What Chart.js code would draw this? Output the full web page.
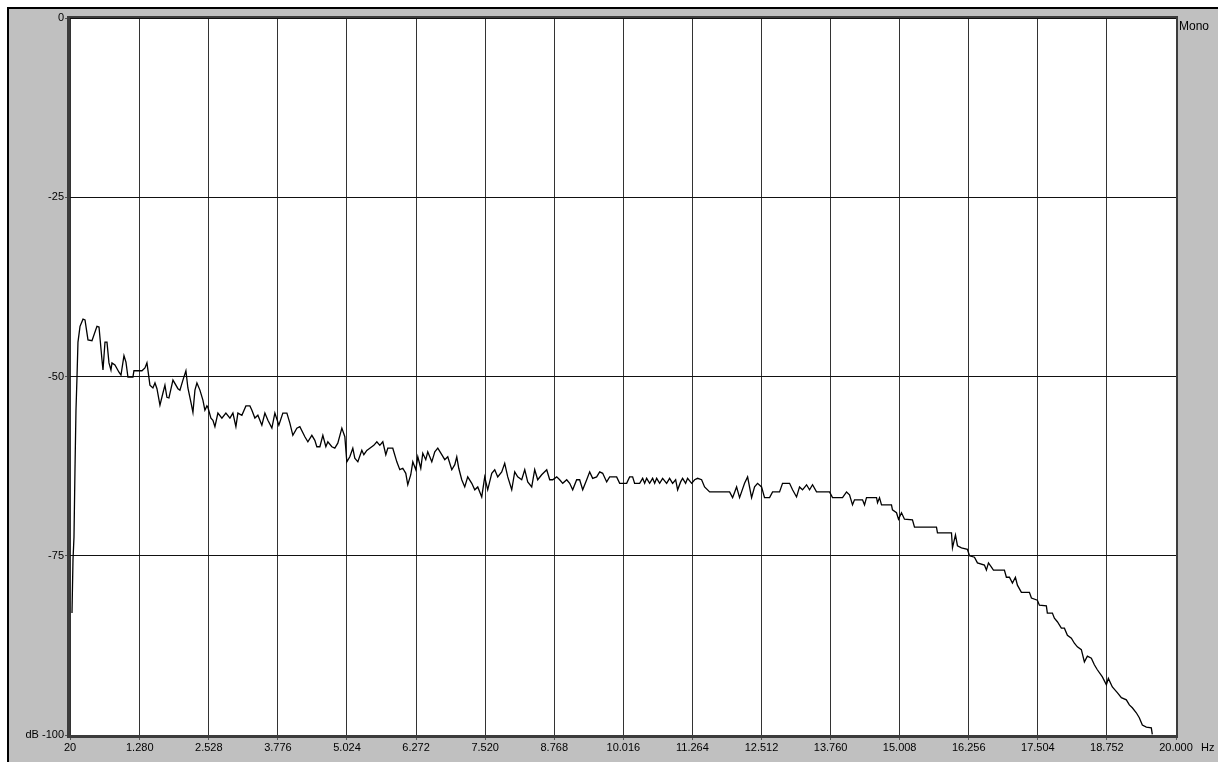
<!DOCTYPE html>
<html>
<head>
<meta charset="utf-8">
<script src="https://cdn.jsdelivr.net/npm/chart.js@4.4.1/dist/chart.umd.min.js"></script>
<style>
  html, body { margin: 0; padding: 0; background: #fff; }
  #wrap { position: relative; width: 1218px; height: 762px; }
</style>
</head>
<body>
<div id="wrap"><canvas id="spectrum" width="1218" height="762"></canvas></div>
<script>
// Frequency axis ticks (Hz) and their printed labels
const xTickValues = [20, 1280, 2528, 3776, 5024, 6272, 7520, 8768, 10016, 11264, 12512, 13760, 15008, 16256, 17504, 18752, 20000];
const xTickLabels = ['20', '1.280', '2.528', '3.776', '5.024', '6.272', '7.520', '8.768', '10.016', '11.264', '12.512', '13.760', '15.008', '16.256', '17.504', '18.752', '20.000'];

// Level axis ticks (dB) and their printed labels
const yTickValues = [0, -25, -50, -75, -100];
const yTickLabels = ['0', '-25', '-50', '-75', 'dB -100'];

// Spectrum trace: frequency (Hz)
const freqHz = [
  56, 74, 92, 110, 128, 146, 164, 201, 255, 291, 345, 417, 507, 544, 598, 616, 652, 688, 724, 760,
  778, 832, 905, 941, 995, 1031, 1067, 1157, 1175, 1320, 1374, 1410, 1428, 1464, 1518, 1555, 1591, 1645, 1699, 1735,
  1771, 1807, 1880, 1970, 2006, 2060, 2114, 2150, 2205, 2241, 2277, 2313, 2367, 2421, 2457, 2493, 2511, 2566, 2602, 2638,
  2692, 2764, 2836, 2909, 2963, 3017, 3053, 3125, 3198, 3270, 3306, 3360, 3414, 3486, 3541, 3595, 3667, 3721, 3793, 3865,
  3938, 3992, 4046, 4118, 4172, 4263, 4317, 4389, 4443, 4479, 4534, 4588, 4642, 4678, 4750, 4804, 4858, 4931, 4985, 5021,
  5075, 5129, 5165, 5220, 5292, 5328, 5382, 5436, 5508, 5563, 5617, 5671, 5725, 5761, 5851, 5924, 5978, 6032, 6086, 6122,
  6176, 6213, 6267, 6303, 6357, 6393, 6447, 6483, 6556, 6610, 6664, 6736, 6790, 6844, 6917, 6971, 7007, 7043, 7097, 7151,
  7205, 7278, 7332, 7386, 7458, 7512, 7566, 7639, 7693, 7747, 7819, 7873, 7928, 8000, 8054, 8108, 8180, 8235, 8289, 8361,
  8415, 8469, 8541, 8632, 8686, 8740, 8812, 8866, 8921, 8993, 9047, 9101, 9173, 9227, 9282, 9354, 9408, 9462, 9534, 9589,
  9643, 9715, 9769, 9895, 9950, 10076, 10130, 10184, 10220, 10311, 10365, 10401, 10437, 10491, 10545, 10582, 10618, 10672, 10726, 10798,
  10852, 10906, 10961, 10997, 11051, 11087, 11141, 11177, 11250, 11304, 11358, 11430, 11484, 11575, 11936, 11990, 12062, 12116, 12206, 12261,
  12333, 12387, 12441, 12513, 12567, 12658, 12712, 12838, 12892, 13019, 13073, 13145, 13199, 13253, 13326, 13380, 13434, 13506, 13741, 13795,
  13976, 14048, 14102, 14156, 14192, 14337, 14373, 14409, 14590, 14608, 14644, 14680, 14860, 14878, 14951, 14987, 15041, 15095, 15239, 15276,
  15673, 15691, 15944, 15962, 16016, 16052, 16124, 16232, 16269, 16359, 16413, 16539, 16575, 16612, 16666, 16702, 16900, 16936, 16991, 17045,
  17099, 17135, 17207, 17352, 17388, 17496, 17532, 17658, 17676, 17767, 17803, 17857, 17929, 17984, 18038, 18110, 18164, 18218, 18290, 18345,
  18399, 18471, 18525, 18579, 18670, 18742, 18778, 18850, 18940, 19013, 19103, 19157, 19211, 19283, 19337, 19392, 19464, 19554, 19572
];

// Spectrum trace: level (dB)
const levelDb = [
  -83.0, -75.6, -72.4, -63.0, -54.7, -50.2, -45.2, -43.0, -42.0, -42.1, -44.9, -45.0, -43.0, -43.1, -47.7, -49.1, -45.2, -45.2, -48.1, -49.1,
  -48.1, -48.4, -49.4, -49.8, -47.1, -48.0, -50.1, -50.1, -49.2, -49.2, -48.8, -48.1, -49.1, -51.2, -51.6, -50.9, -51.7, -54.0, -52.3, -51.2,
  -52.9, -53.0, -50.5, -51.7, -51.9, -50.5, -49.2, -51.6, -53.6, -55.0, -51.9, -50.9, -51.9, -53.3, -54.7, -54.1, -54.3, -55.8, -56.1, -57.0,
  -55.1, -55.8, -55.1, -55.8, -55.1, -57.0, -55.1, -55.4, -54.1, -54.1, -54.7, -55.8, -55.4, -56.8, -55.1, -56.1, -57.2, -55.1, -56.8, -55.1,
  -55.1, -56.5, -58.2, -57.2, -57.0, -58.4, -59.1, -58.2, -58.9, -59.8, -59.8, -58.2, -59.8, -59.1, -59.8, -60.0, -59.3, -57.2, -58.4, -61.9,
  -61.2, -60.0, -61.4, -61.9, -60.3, -60.9, -60.3, -60.0, -59.6, -59.1, -59.6, -59.1, -60.9, -60.0, -60.0, -61.9, -63.0, -62.8, -63.5, -65.1,
  -63.7, -61.9, -63.0, -61.2, -62.8, -60.7, -61.6, -60.5, -61.9, -60.5, -60.0, -60.9, -61.6, -61.2, -63.0, -62.3, -61.2, -62.8, -64.4, -65.4,
  -64.0, -64.9, -65.8, -65.4, -66.8, -64.0, -65.8, -63.5, -63.0, -64.0, -63.3, -62.1, -64.0, -65.8, -63.3, -64.0, -64.4, -63.0, -64.7, -65.4,
  -63.0, -64.4, -63.7, -63.0, -64.4, -64.4, -64.0, -64.4, -64.9, -64.4, -64.9, -65.8, -64.4, -64.4, -65.8, -64.4, -63.3, -64.2, -64.0, -63.3,
  -63.5, -64.7, -64.0, -64.0, -64.9, -64.9, -64.0, -64.0, -64.9, -64.9, -64.2, -64.9, -64.2, -64.9, -64.2, -64.9, -64.2, -64.9, -64.2, -64.9,
  -64.2, -64.9, -64.4, -65.8, -64.7, -64.2, -64.9, -64.2, -64.9, -64.4, -64.2, -64.4, -65.4, -66.1, -66.1, -66.9, -65.4, -66.9, -64.9, -64.0,
  -66.9, -65.4, -64.9, -65.4, -66.9, -66.9, -66.1, -66.1, -64.9, -64.9, -65.8, -66.8, -65.4, -65.8, -65.1, -65.8, -65.1, -66.1, -66.1, -66.9,
  -66.9, -66.1, -66.5, -67.9, -67.2, -67.2, -67.9, -66.9, -66.9, -67.6, -66.9, -67.9, -67.9, -68.6, -69.0, -69.9, -69.0, -69.9, -70.0, -71.0,
  -71.0, -71.8, -71.8, -73.9, -72.1, -73.6, -73.9, -74.1, -75.0, -75.2, -76.0, -76.3, -77.0, -76.0, -76.6, -77.0, -77.0, -78.0, -78.0, -78.8,
  -78.0, -79.1, -80.1, -80.1, -80.9, -81.2, -81.9, -82.0, -83.0, -83.0, -83.7, -84.2, -85.1, -85.1, -86.1, -86.5, -87.2, -87.7, -88.1, -89.8,
  -89.0, -89.3, -90.2, -90.9, -91.9, -93.0, -92.1, -93.3, -94.1, -94.8, -95.1, -95.8, -96.2, -96.9, -97.6, -98.6, -98.9, -99.0, -99.9
];

const FONT = '"Liberation Sans", Arial, sans-serif';
const trace = freqHz.map((f, i) => ({ x: f, y: levelDb[i] }));

// Gray instrument panel, sunken plot frame and the corner captions
const panelPlugin = {
  id: 'panel',
  beforeDraw(chart) {
    const ctx = chart.ctx;
    ctx.save();
    ctx.fillStyle = '#ffffff';
    ctx.fillRect(0, 0, chart.width, chart.height);
    ctx.fillStyle = '#c0c0c0';
    ctx.fillRect(7, 7, chart.width - 7, chart.height - 7);
    ctx.fillStyle = '#000000';
    ctx.fillRect(7, 7, chart.width - 7, 2);
    ctx.fillRect(7, 7, 2, chart.height - 7);
    const a = chart.chartArea;
    ctx.fillStyle = '#ffffff';
    ctx.fillRect(a.left, a.top, a.right - a.left, a.bottom - a.top);
    ctx.restore();
  },
  beforeDatasetsDraw(chart) {
    const ctx = chart.ctx;
    const a = chart.chartArea;
    ctx.save();
    ctx.fillStyle = '#3c3c3c';
    ctx.fillRect(a.left - 3, a.top - 2, a.right - a.left + 5, 2);   // top
    ctx.fillRect(a.left - 3, a.top - 2, 3, a.bottom - a.top + 5);   // left
    ctx.fillRect(a.left - 3, a.bottom, a.right - a.left + 5, 3);    // bottom
    ctx.fillRect(a.right, a.top - 2, 2, a.bottom - a.top + 5);      // right
    ctx.restore();
  },
  afterDraw(chart) {
    const ctx = chart.ctx;
    const a = chart.chartArea;
    ctx.save();
    ctx.fillStyle = '#000000';
    ctx.textAlign = 'left';
    ctx.textBaseline = 'middle';
    ctx.font = '12px ' + FONT;
    ctx.fillText('Mono', a.right + 3, 27);
    ctx.font = '11px ' + FONT;
    ctx.fillText('Hz', a.right + 25, a.bottom + 13);
    ctx.restore();
  }
};

new Chart(document.getElementById('spectrum'), {
  type: 'line',
  data: {
    datasets: [{
      data: trace,
      borderColor: '#000000',
      borderWidth: 1.3,
      pointRadius: 0,
      tension: 0,
      fill: false
    }]
  },
  options: {
    responsive: false,
    animation: false,
    devicePixelRatio: 1,
    layout: { padding: { left: 0, top: 18, right: 42, bottom: 0 } },
    plugins: { legend: { display: false }, tooltip: { enabled: false } },
    scales: {
      x: {
        type: 'linear',
        min: 20,
        max: 20000,
        afterBuildTicks: (s) => { s.ticks = xTickValues.map(v => ({ value: v })); },
        afterFit: (s) => { s.height = 27; },
        ticks: {
          autoSkip: false,
          maxRotation: 0,
          padding: 1,
          color: '#000000',
          font: { family: FONT, size: 11 },
          callback: (v) => xTickLabels[xTickValues.indexOf(v)]
        },
        grid: { color: '#333333', lineWidth: 1, tickLength: 5, tickColor: '#555555' },
        border: { display: false }
      },
      y: {
        type: 'linear',
        min: -100,
        max: 0,
        afterBuildTicks: (s) => { s.ticks = yTickValues.map(v => ({ value: v })); },
        afterFit: (s) => { s.width = 70; },
        ticks: {
          padding: 1,
          color: '#000000',
          font: { family: FONT, size: 11 },
          callback: (v) => yTickLabels[yTickValues.indexOf(v)]
        },
        grid: { color: '#111111', lineWidth: 1, tickLength: 5, tickColor: '#555555' },
        border: { display: false }
      }
    }
  },
  plugins: [panelPlugin]
});
</script>
</body>
</html>
